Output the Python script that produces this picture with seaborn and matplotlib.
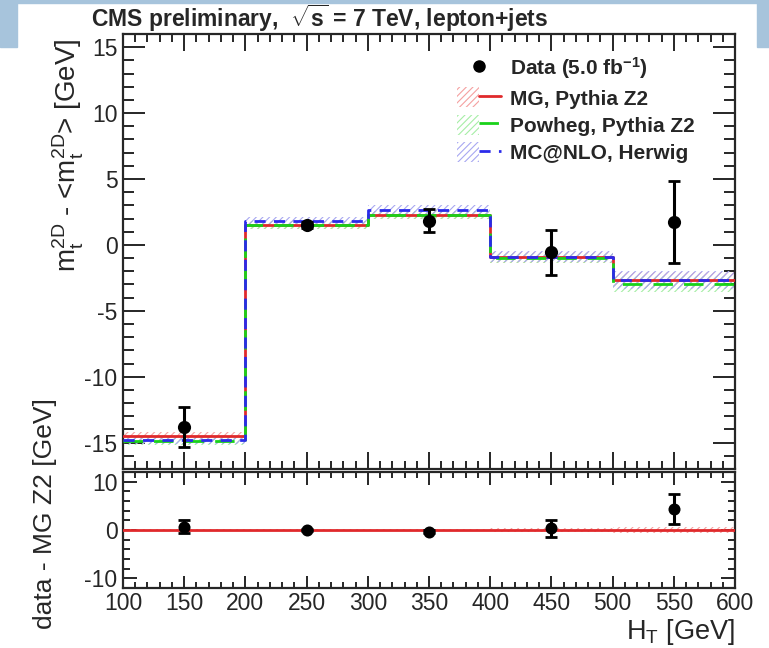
import numpy as np
import pandas as pd
import matplotlib
matplotlib.use("Agg")
import matplotlib.pyplot as plt
from matplotlib.ticker import MultipleLocator
from matplotlib.patches import Patch, Rectangle
from matplotlib.lines import Line2D
from matplotlib.legend_handler import HandlerTuple
import seaborn as sns

# ---------------- data ----------------
bin_edges = [100, 200, 300, 400, 500, 600]
bin_centers = [150, 250, 350, 450, 550]

data_vals = [-13.8, 1.5, 1.85, -0.55, 1.75]
data_errs = [1.5, 0.2, 0.85, 1.7, 3.1]

mg_vals = [-14.5, 1.5, 2.25, -0.95, -2.65]
mg_errs = [0.3, 0.3, 0.3, 0.4, 0.6]
pw_vals = [-14.9, 1.5, 2.25, -1.0, -2.95]
pw_errs = [0.3, 0.3, 0.3, 0.4, 0.6]
mc_vals = [-14.8, 1.85, 2.65, -0.9, -2.65]
mc_errs = [0.3, 0.3, 0.35, 0.4, 0.7]

ratio_vals = [0.7, 0.0, -0.4, 0.35, 4.4]
ratio_errs = [1.3, 0.3, 0.3, 1.7, 3.1]
ratio_mg_errs = [0.3, 0.3, 0.3, 0.4, 0.6]

legend_labels = ["Data (5.0 fb$^{\\mathbf{-1}}$)", "MG, Pythia Z2",
                 "Powheg, Pythia Z2", "MC@NLO, Herwig"]

# ---------------- style ----------------
sns.set_style("ticks")
plt.rcParams["font.family"] = ["Liberation Sans", "DejaVu Sans"]
plt.rcParams["mathtext.fontset"] = "custom"
plt.rcParams["mathtext.rm"] = "Liberation Sans"
plt.rcParams["mathtext.it"] = "Liberation Sans"
plt.rcParams["mathtext.bf"] = "Liberation Sans:bold"
plt.rcParams["hatch.linewidth"] = 0.8
plt.rcParams["axes.unicode_minus"] = False

RED = "#e0292b"
GREEN = "#19d219"
BLUE = "#2b2bea"
RED_H = "#f5a0a0"
GREEN_H = "#a6eea6"
BLUE_H = "#a8a8f2"

W, H = 769, 648
fig = plt.figure(figsize=(W / 100, H / 100), dpi=100)
fig.patch.set_facecolor("white")

# light blue slide decorations
fig.add_artist(Rectangle((0, 1 - 47 / H), 17 / W, 47 / H, transform=fig.transFigure,
                         color="#a7c4dc", zorder=0))
fig.add_artist(Rectangle((757 / W, 1 - 47 / H), 12 / W, 47 / H, transform=fig.transFigure,
                         color="#a7c4dc", zorder=0))
fig.add_artist(Rectangle((0, 1 - 3 / H), 1, 3 / H, transform=fig.transFigure,
                         color="#a7c4dc", zorder=0))

left, right = 123 / W, 735 / W
ax1 = fig.add_axes([left, 1 - 469 / H, right - left, (469 - 34) / H])
ax2 = fig.add_axes([left, 1 - 588 / H, right - left, (588 - 472) / H])


def stepxy(vals):
    return bin_edges, list(vals) + [vals[-1]]


def band(ax, vals, errs, hcolor):
    lo = [v - e for v, e in zip(vals, errs)]
    hi = [v + e for v, e in zip(vals, errs)]
    lo = lo + [lo[-1]]
    hi = hi + [hi[-1]]
    ax.fill_between(bin_edges, lo, hi, step="post", facecolor="none",
                    edgecolor=hcolor, hatch="/////", linewidth=0, zorder=1)


# ---------------- upper panel ----------------
band(ax1, mg_vals, mg_errs, RED_H)
band(ax1, pw_vals, pw_errs, GREEN_H)
band(ax1, mc_vals, mc_errs, BLUE_H)

for vals, col, ls, z in [(mg_vals, RED, "-", 3), (pw_vals, GREEN, (0, (7, 4)), 4),
                         (mc_vals, BLUE, (0, (4, 3)), 5)]:
    xs, ys = stepxy(vals)
    sns.lineplot(x=xs, y=ys, ax=ax1, color=col, linestyle=ls, linewidth=2,
                 drawstyle="steps-post", zorder=z, estimator=None, sort=False)

ax1.errorbar(bin_centers, data_vals, yerr=data_errs, fmt="none", ecolor="black",
             elinewidth=2.2, capsize=4, capthick=2, zorder=6)
sns.scatterplot(x=bin_centers, y=data_vals, ax=ax1, color="black", s=90,
                edgecolor="black", linewidth=0, zorder=7)

ax1.set_xlim(100, 600)
ax1.set_ylim(-17, 16)
ax1.yaxis.set_major_locator(MultipleLocator(5))
ax1.yaxis.set_minor_locator(MultipleLocator(1))
ax1.xaxis.set_major_locator(MultipleLocator(50))
ax1.xaxis.set_minor_locator(MultipleLocator(10))
ax1.tick_params(axis="both", which="both", direction="in", top=True, right=True,
                width=1.4, labelsize=16.5)
ax1.tick_params(axis="y", which="major", length=16, pad=4)
ax1.tick_params(axis="y", which="minor", length=8)
ax1.tick_params(axis="x", which="major", length=12)
ax1.tick_params(axis="x", which="minor", length=6)
ax1.tick_params(axis="x", labelbottom=False)
for s in ax1.spines.values():
    s.set_linewidth(1.6)

# legend
h_data = Line2D([], [], marker="o", color="black", linestyle="none", markersize=8)
h_mg = (Patch(facecolor="none", edgecolor=RED_H, hatch="/////", linewidth=0),
        Line2D([], [], color=RED, linewidth=2))
h_pw = (Patch(facecolor="none", edgecolor=GREEN_H, hatch="/////", linewidth=0),
        Line2D([], [], color=GREEN, linewidth=2, linestyle=(0, (7, 4))))
h_mc = (Patch(facecolor="none", edgecolor=BLUE_H, hatch="/////", linewidth=0),
        Line2D([], [], color=BLUE, linewidth=2, linestyle=(0, (4, 3))))
leg = ax1.legend([h_data, h_mg, h_pw, h_mc], legend_labels,
                 handler_map={tuple: HandlerTuple(ndivide=None, pad=0)},
                 loc="upper left", bbox_to_anchor=(0.529, 0.975), frameon=False,
                 prop={"weight": "bold", "size": 15}, handlelength=2.1,
                 handleheight=1.1, handletextpad=0.45, labelspacing=0.3,
                 borderpad=0)

# ---------------- lower panel ----------------
band(ax2, [0, 0, 0, 0, 0], ratio_mg_errs, RED_H)
xs, ys = stepxy([0, 0, 0, 0, 0])
sns.lineplot(x=xs, y=ys, ax=ax2, color=RED, linewidth=2, drawstyle="steps-post",
             zorder=3, estimator=None, sort=False)
ax2.errorbar(bin_centers, ratio_vals, yerr=ratio_errs, fmt="none", ecolor="black",
             elinewidth=2.2, capsize=4, capthick=2, zorder=6)
sns.scatterplot(x=bin_centers, y=ratio_vals, ax=ax2, color="black", s=75,
                linewidth=0, zorder=7)

ax2.set_xlim(100, 600)
ax2.set_ylim(-12, 12)
ax2.yaxis.set_major_locator(MultipleLocator(10))
ax2.yaxis.set_minor_locator(MultipleLocator(2))
ax2.xaxis.set_major_locator(MultipleLocator(50))
ax2.xaxis.set_minor_locator(MultipleLocator(10))
ax2.tick_params(axis="both", which="both", direction="in", top=True, right=True,
                width=1.4, labelsize=16.5)
ax2.tick_params(axis="y", which="major", length=10, pad=4)
ax2.tick_params(axis="y", which="minor", length=5)
ax2.tick_params(axis="x", which="major", length=9, pad=3)
ax2.tick_params(axis="x", which="minor", length=4.5)
for s in ax2.spines.values():
    s.set_linewidth(1.6)
ax2.set_xlabel("")
ax2.set_ylabel("")
ax1.set_xlabel("")
ax1.set_ylabel("")

# ---------------- texts ----------------
fig.text(320 / W, 1 - 18 / H, "CMS preliminary,  $\\sqrt{\\mathbf{s}}$ = 7 TeV, lepton+jets",
         ha="center", va="center", fontsize=16.5, fontweight="bold")
fig.text(68 / W, 1 - 38 / H,
         "m$_{\\mathrm{t}}^{\\mathrm{2D}}$ - <m$_{\\mathrm{t}}^{\\mathrm{2D}}$> [GeV]",
         rotation=90, ha="center", va="top", fontsize=20)
fig.text(45 / W, 1 - 398 / H, "data - MG Z2 [GeV]", rotation=90, ha="center",
         va="top", fontsize=19)
fig.text(735 / W, 1 - 632 / H, "H$_{\\mathrm{T}}$ [GeV]", ha="right", va="center",
         fontsize=19.5)

fig.savefig("out.png", dpi=100)
